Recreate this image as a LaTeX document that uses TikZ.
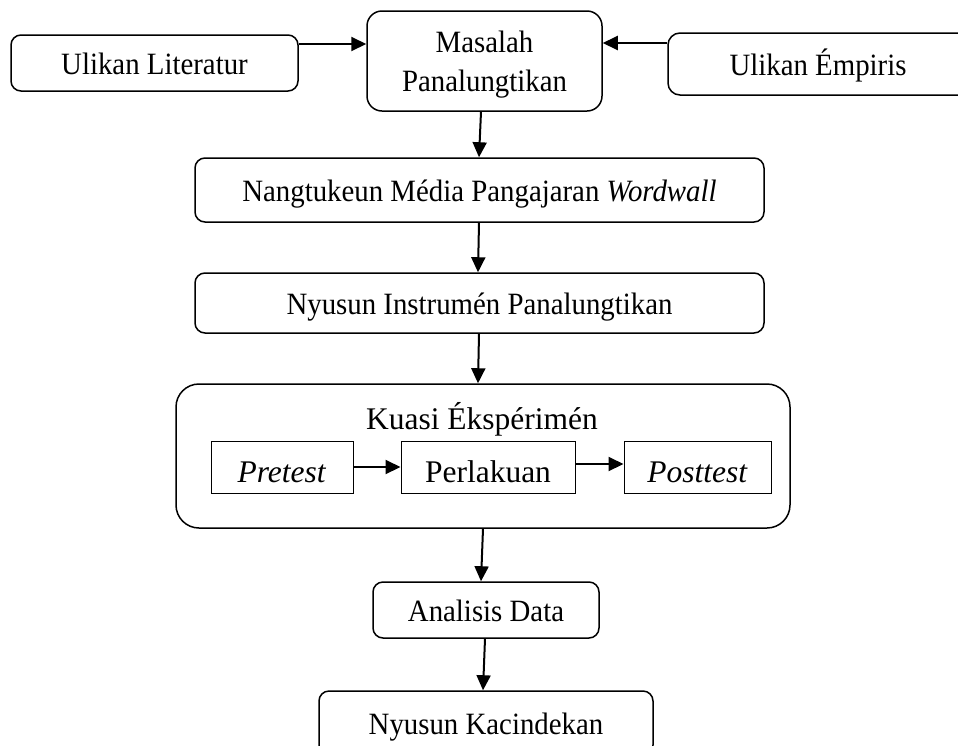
\documentclass[tikz,border=0pt]{standalone}
\usepackage{fontspec}
\setmainfont{Liberation Serif}[FakeStretch=0.93]
\newfontfamily\plainserif{Liberation Serif}
\usetikzlibrary{arrows.meta}
\begin{document}
\begin{tikzpicture}[x=1pt,y=-1pt,
  rbox/.style={draw,line width=1.5pt,rounded corners=10pt,inner sep=0pt,align=center,
    font=\fontsize{31}{39}\selectfont,text height=22pt,text depth=0pt},
  sbox/.style={draw,line width=1pt,inner sep=0pt,font=\plainserif\fontsize{31.5}{38}\selectfont,
    text height=30pt,text depth=0pt},
  arr/.style={line width=2pt,-{Triangle[length=15pt,width=14pt]}}]
\useasboundingbox (0,0) rectangle (958,745);
\clip (0,0) rectangle (958,745);
\node[rbox,minimum width=287pt,minimum height=56pt] (lit) at (154.5,63) {Ulikan Literatur};
\node[rbox,rounded corners=15pt,minimum width=235pt,minimum height=100pt,text height=61pt,text depth=0pt] (mas) at (484.5,61) {Masalah\\Panalungtikan};
\node[rbox,rounded corners=12pt,minimum width=322pt,minimum height=62pt] (emp) at (829,64) {\hspace*{-22pt}Ulikan Émpiris};
\node[rbox,minimum width=569pt,minimum height=64pt] (nan) at (479.5,190) {Nangtukeun Média Pangajaran \textit{Wordwall}};
\node[rbox,minimum width=569pt,minimum height=60pt] (nyi) at (479.5,303) {Nyusun Instrumén Panalungtikan};
\node[rbox,rounded corners=23pt,minimum width=614pt,minimum height=144pt] (kua) at (483,456) {};
\node[font=\plainserif\fontsize{31.5}{38}\selectfont,inner sep=0pt,anchor=base] (kuat) at (482,429) {Kuasi Ékspérimén};
\node[sbox,minimum width=142pt,minimum height=52pt] (pre) at (282,467) {\textit{Pretest}};
\node[sbox,minimum width=174pt,minimum height=52pt] (per) at (488,467) {Perlakuan};
\node[sbox,minimum width=147pt,minimum height=52pt] (pos) at (697.5,467) {\textit{Posttest}};
\node[rbox,minimum width=226pt,minimum height=56pt] (ana) at (486,610) {Analisis Data};
\node[rbox,minimum width=334pt,minimum height=64pt] (kac) at (486,723) {Nyusun Kacindekan};
\draw[arr] ([yshift=19pt]lit.east) -- ([yshift=19pt]lit.east -| mas.west);
\draw[arr] ([yshift=21pt]emp.west) -- ([yshift=21pt]emp.west -| mas.east);
\draw[arr] ([xshift=-3.5pt]mas.south) -- ([xshift=-0.5pt]nan.north);
\draw[arr] ([xshift=-0.5pt]nan.south) -- ([xshift=-1.5pt]nyi.north);
\draw[arr] ([xshift=-0.5pt]nyi.south) -- ([xshift=-5pt]kua.north);
\draw[arr] (pre.east) -- (per.west);
\draw[arr] ([yshift=3pt]per.east) -- ([yshift=3pt]per.east -| pos.west);
\draw[arr] (kua.south) -- ([xshift=-5pt]ana.north);
\draw[arr] ([xshift=-1pt]ana.south) -- ([xshift=-3pt]kac.north);
\end{tikzpicture}
\end{document}
